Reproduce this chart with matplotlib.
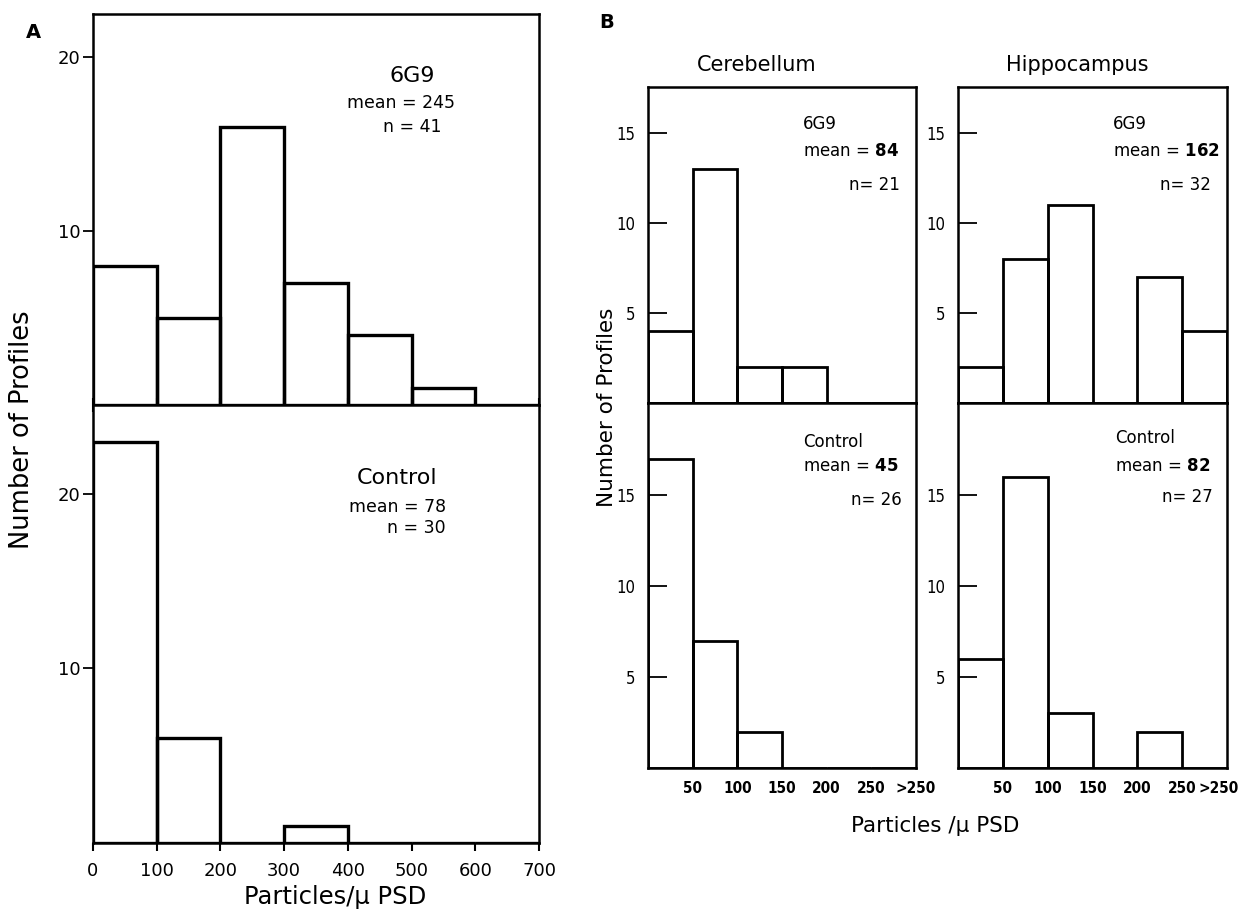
import matplotlib
matplotlib.use("Agg")
import matplotlib.pyplot as plt
import matplotlib.transforms as mtransforms

# ---------------- data ----------------
a_edges = [0, 100, 200, 300, 400, 500, 600, 700]
a_6g9 = [8, 5, 16, 7, 4, 1, 0]
a_control = [23, 6, 0, 1, 0, 0, 0]
a_xticks = [0, 100, 200, 300, 400, 500, 600, 700]

b_edges = [0, 50, 100, 150, 200, 250, 300]
b_labels = ["50", "100", "150", "200", "250", ">250"]
cereb_6g9 = [4, 13, 2, 2, 0, 0]
hippo_6g9 = [2, 8, 11, 0, 7, 4]
cereb_ctrl = [17, 7, 2, 0, 0, 0]
hippo_ctrl = [6, 16, 3, 0, 2, 0]

W, H = 1244, 913
plt.rcParams['font.family'] = ['DejaVu Sans']
fig = plt.figure(figsize=(W / 100, H / 100), dpi=100)


def fx(x):
    return x / W


def fy(y):
    return 1 - y / H


def axes_px(left, right, top, bottom):
    return fig.add_axes([fx(left), fy(bottom), (right - left) / W, (bottom - top) / H])


def draw_bars(ax, edges, counts, lw):
    lefts = edges[:-1]
    widths = [edges[i + 1] - edges[i] for i in range(len(counts))]
    ax.bar(lefts, counts, width=widths, align='edge', fill=False,
           edgecolor='black', linewidth=lw, joinstyle='miter')


SPINE_LW = 1.8

# ---------------- Panel A ----------------
axA1 = axes_px(93, 539, 14, 405)
axA2 = axes_px(93, 539, 405, 843)
draw_bars(axA1, a_edges, a_6g9, 2.4)
draw_bars(axA2, a_edges, a_control, 2.4)
for ax, top in ((axA1, 22.5), (axA2, 25.1)):
    ax.set_xlim(0, 700)
    ax.set_ylim(0, top)
    ax.set_yticks([10, 20])
    ax.set_yticklabels(["10", "20"], fontsize=13)
    ax.tick_params(axis='y', direction='out', length=7, width=1.3, pad=2)
    for s in ax.spines.values():
        s.set_linewidth(SPINE_LW)
axA1.set_xticks(a_xticks)
axA1.tick_params(axis='x', direction='inout', length=10, width=1.5, labelbottom=False)
axA2.set_xticks(a_xticks)
axA2.set_xticklabels([str(v) for v in a_xticks], fontsize=13)
axA2.tick_params(axis='x', direction='out', length=6, width=1.5, pad=8)

fig.text(fx(412), fy(76), "6G9", fontsize=16, ha='center', va='center')
fig.text(fx(401), fy(103), "mean = 245", fontsize=12.5, ha='center', va='center')
fig.text(fx(412), fy(127), "n = 41", fontsize=12.5, ha='center', va='center')
fig.text(fx(397), fy(478), "Control", fontsize=16, ha='center', va='center')
fig.text(fx(398), fy(507), "mean = 78", fontsize=12.5, ha='center', va='center')
fig.text(fx(416), fy(528), "n = 30", fontsize=12.5, ha='center', va='center')

fig.text(fx(33), fy(33), "A", fontsize=14, fontweight='bold', ha='center', va='center')
fig.text(fx(22), fy(430), "Number of Profiles", fontsize=18.5, rotation=90,
         ha='center', va='center')
fig.text(fx(335), fy(897), "Particles/\u03bc PSD", fontsize=17.5, ha='center', va='center')

# ---------------- Panel B ----------------
axC1 = axes_px(648, 916, 87, 403)
axC2 = axes_px(648, 916, 403, 768)
axH1 = axes_px(958, 1227, 87, 403)
axH2 = axes_px(958, 1227, 403, 768)
draw_bars(axC1, b_edges, cereb_6g9, 2.0)
draw_bars(axC2, b_edges, cereb_ctrl, 2.0)
draw_bars(axH1, b_edges, hippo_6g9, 2.0)
draw_bars(axH2, b_edges, hippo_ctrl, 2.0)
for ax, top in ((axC1, 17.55), (axH1, 17.55), (axC2, 20.05), (axH2, 20.05)):
    ax.set_xlim(0, 300)
    ax.set_ylim(0, top)
    ax.set_yticks([5, 10, 15])
    ax.set_yticklabels(["5", "10", "15"], fontsize=12, fontstretch='condensed')
    ax.tick_params(axis='y', direction='in', length=14, width=1.3, pad=9)
    for s in ax.spines.values():
        s.set_linewidth(SPINE_LW)
    ax.set_xticks(b_edges[1:])
    if ax in (axC2, axH2):
        ax.set_xticklabels(b_labels, fontsize=11, fontweight='bold',
                           fontstretch='condensed')
        ax.tick_params(axis='x', length=0, pad=9)
    else:
        ax.tick_params(axis='x', length=0, labelbottom=False)

# nudge the last hippocampus label so it stays inside the figure
last = axH2.get_xticklabels()[-1]
last.set_transform(last.get_transform() +
                   mtransforms.ScaledTranslation(-8 / 100, 0, fig.dpi_scale_trans))

fig.text(fx(607), fy(23), "B", fontsize=14, fontweight='bold', ha='center', va='center')
fig.text(fx(757), fy(65), "Cerebellum", fontsize=15, ha='center', va='center')
fig.text(fx(1077), fy(65), "Hippocampus", fontsize=15, ha='center', va='center')

BFS = 12
fig.text(fx(803), fy(124), "6G9", fontsize=BFS, ha='left', va='center')
fig.text(fx(803), fy(151), r"mean = $\mathbf{84}$", fontsize=BFS, ha='left', va='center')
fig.text(fx(900), fy(185), "n= 21", fontsize=BFS, ha='right', va='center')
fig.text(fx(1113), fy(124), "6G9", fontsize=BFS, ha='left', va='center')
fig.text(fx(1113), fy(151), r"mean = $\mathbf{162}$", fontsize=BFS, ha='left', va='center')
fig.text(fx(1211), fy(185), "n= 32", fontsize=BFS, ha='right', va='center')

fig.text(fx(803), fy(442), "Control", fontsize=BFS, ha='left', va='center')
fig.text(fx(803), fy(466), r"mean = $\mathbf{45}$", fontsize=BFS, ha='left', va='center')
fig.text(fx(902), fy(500), "n= 26", fontsize=BFS, ha='right', va='center')
fig.text(fx(1115), fy(438), "Control", fontsize=BFS, ha='left', va='center')
fig.text(fx(1115), fy(466), r"mean = $\mathbf{82}$", fontsize=BFS, ha='left', va='center')
fig.text(fx(1213), fy(497), "n= 27", fontsize=BFS, ha='right', va='center')

fig.text(fx(607), fy(407), "Number of Profiles", fontsize=15.5, rotation=90,
         ha='center', va='center')
fig.text(fx(935), fy(826), "Particles /\u03bc PSD", fontsize=15.5, ha='center', va='center')

fig.savefig("out.png", dpi=100, facecolor='white')
